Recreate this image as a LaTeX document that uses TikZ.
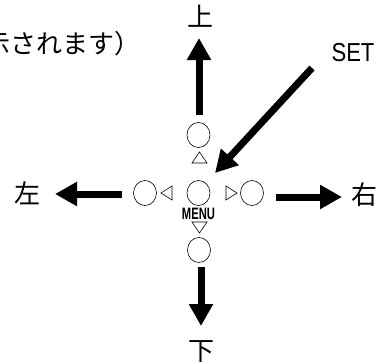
\documentclass[tikz,border=0pt]{standalone}
\usepackage{fontspec}
\setmainfont{Liberation Sans}
\newfontfamily\jp{Noto Sans CJK JP}
\usetikzlibrary{arrows.meta,shapes.geometric}
\tikzset{
  btn/.style={draw, ellipse, line width=0.6pt, minimum width=23pt, minimum height=25pt, inner sep=0pt},
  tri/.style={draw, line width=0.6pt, line join=miter},
  bigarrow/.style={line width=7pt, -{Triangle[width=23pt,length=22pt]}},
  jplabel/.style={font=\jp\fontsize{26}{26}\selectfont, inner sep=0pt, anchor=center},
}
\begin{document}
\begin{tikzpicture}[x=1pt,y=-1pt]
  \useasboundingbox (0,0) rectangle (384,364);
  \clip (0,0) rectangle (384,364);

  % caption line (runs off the left edge)
  \node[font=\jp\fontsize{26}{26}\selectfont, inner sep=0pt, anchor=east] (caption) at (141,44) {表示されます）};

  % direction labels
  \node[jplabel] (lblup) at (200,16) {上};
  \node[jplabel] (lbldown) at (201,352) {下};
  \node[jplabel] (lblleft) at (27,193) {左};
  \node[jplabel] (lblright) at (365,195) {右};
  \node[font=\fontsize{26}{26}\selectfont, xscale=0.85, inner sep=0pt] (lblset) at (353,53) {SET};

  % buttons
  \node[btn] (bup) at (198.5,135) {};
  \node[btn] (bmid) at (198.5,193) {};
  \node[btn] (bdown) at (199,250) {};
  \node[btn] (bleft) at (145,193) {};
  \node[btn] (bright) at (252,193) {};
  \node[font=\bfseries\fontsize{16.5}{16.5}\selectfont, xscale=0.68, inner sep=0pt] (menu) at (198.5,213.5) {MENU};

  % small direction marks
  \draw[tri] (199.5,152) -- (192,163) -- (207,163) -- cycle;
  \draw[tri] (192,222) -- (207,222) -- (199.5,233) -- cycle;
  \draw[tri] (161,193) -- (172,186) -- (172,200) -- cycle;
  \draw[tri] (226,186) -- (237,193) -- (226,200) -- cycle;

  % arrow end points
  \coordinate (upA) at (199,115);   \coordinate (upB) at (199,38);
  \coordinate (dnA) at (201,267);   \coordinate (dnB) at (201,326);
  \coordinate (ltA) at (122,194);   \coordinate (ltB) at (55,194);
  \coordinate (rtA) at (276,197);   \coordinate (rtB) at (342,197);
  \coordinate (stA) at (312,68);    \coordinate (stB) at (215,173);

  \draw[bigarrow] (upA) -- (upB);
  \draw[bigarrow] (dnA) -- (dnB);
  \draw[bigarrow] (ltA) -- (ltB);
  \draw[bigarrow] (rtA) -- (rtB);
  \draw[bigarrow] (stA) -- (stB);
\end{tikzpicture}
\end{document}
